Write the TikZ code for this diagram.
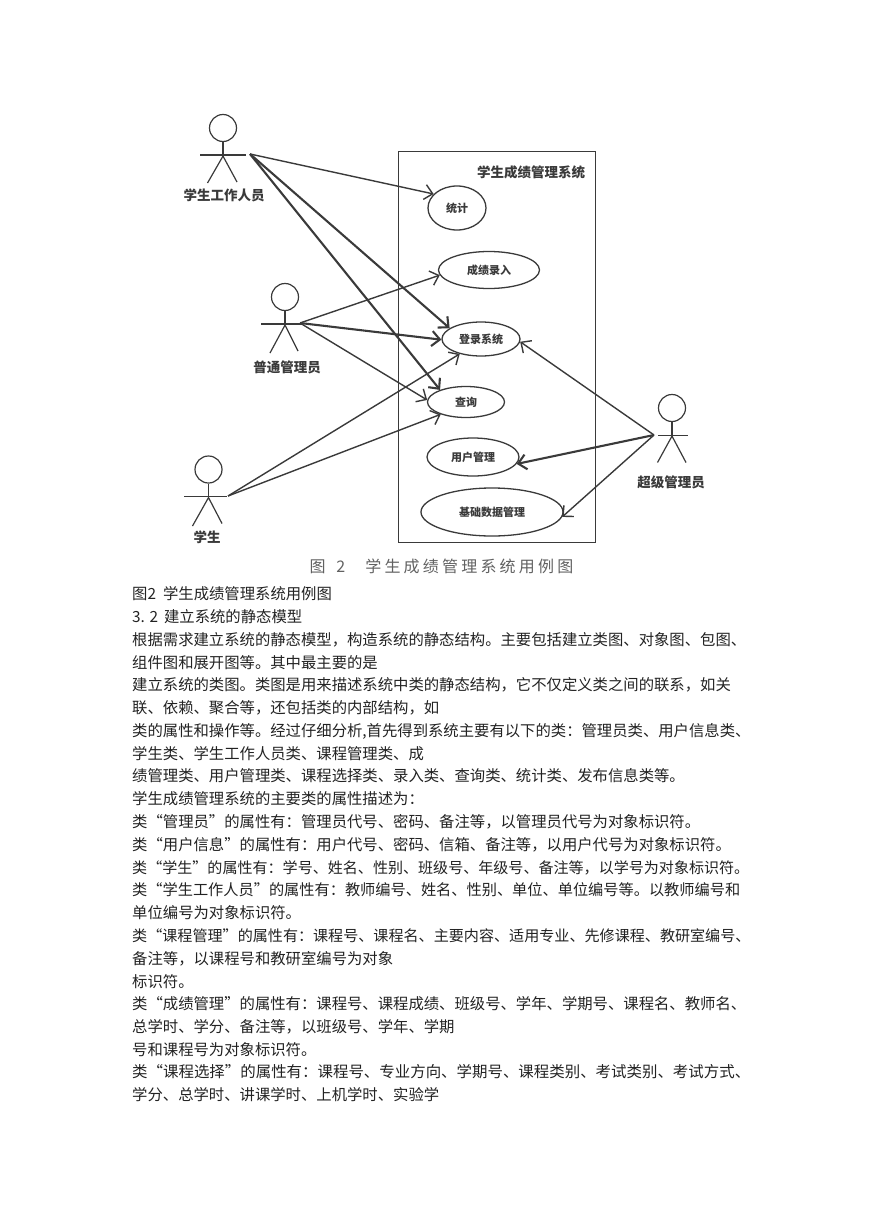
\documentclass[tikz,border=0pt]{standalone}
\usepackage{fontspec}
\setmainfont{Noto Sans CJK SC}
\newfontfamily\capfont[LetterSpace=20]{Noto Sans CJK SC}
\usetikzlibrary{arrows.meta,shapes.geometric}
\definecolor{ink}{HTML}{3A3A3A}
\definecolor{body}{HTML}{222222}
\begin{document}
\begin{tikzpicture}[
    x=1pt,y=-1pt,
    >={Straight Barb[length=8pt,width=15pt]},
    head/.style={circle,draw=ink,line width=1.2pt,inner sep=0,minimum size=27pt},
    stick/.style={draw=ink,line width=1.2pt},
    usecase/.style={ellipse,draw=ink,line width=1.3pt,inner sep=0,text=ink,font=\fontsize{11}{13}\selectfont\bfseries},
    role/.style={inner sep=0,text=ink,font=\fontsize{13.5}{15}\selectfont\bfseries},
    uses/.style={->,draw=ink,line width=1.4pt},
    usesthick/.style={->,draw=ink,line width=2.1pt},
    txt/.style={anchor=base west,inner sep=0,text=body,font=\fontsize{#1}{18}\selectfont},
    txt/.default=15.35
    ]
    \useasboundingbox (0,0) rectangle (869,1228);

    % system box
    \node[draw=ink,line width=1.3pt,inner sep=0,minimum width=197pt,minimum height=391pt] (system) at (497,347) {};
    \node[role] (systitle) at (531,172) {学生成绩管理系统};

    % use cases
    \node[usecase,minimum width=58pt,minimum height=44pt] (tongji) at (457,208) {统计};
    \node[usecase,minimum width=101pt,minimum height=37pt] (luru) at (489,270) {成绩录入};
    \node[usecase,minimum width=78pt,minimum height=34pt] (login) at (481,339) {登录系统};
    \node[usecase,minimum width=77pt,minimum height=31pt] (query) at (466,402) {查询};
    \node[usecase,minimum width=92pt,minimum height=38pt] (usermgr) at (473,457) {用户管理};
    \node[usecase,minimum width=142pt,minimum height=48pt] (basedata) at (492,512) {基础数据管理};

    % actors
    \node[head] (workerhead) at (223,128) {};
    \draw[stick] (workerhead.south) -- ++(0,14) coordinate (workerhip);
    \draw[stick] (200,155) -- (246,155);
    \draw[stick] (207.5,183) -- (workerhip) -- (237,182);
    \node[role] (workerlabel) at (224,195) {学生工作人员};

    \node[head] (adminhead) at (285,297) {};
    \draw[stick] (adminhead.south) -- ++(0,14) coordinate (adminhip);
    \draw[stick] (261,324) -- (302,324);
    \draw[stick] (270,353) -- (adminhip) -- (298,351);
    \node[role] (adminlabel) at (287,367) {普通管理员};

    \node[head] (studenthead) at (208.5,469.5) {};
    \draw[stick] (studenthead.south) -- ++(0,14) coordinate (studenthip);
    \draw[stick] (184,496.5) -- (227,496.5);
    \draw[stick] (192.5,526) -- (studenthip) -- (222,523.5);
    \node[role] (studentlabel) at (207,537) {学生};

    \node[head] (superhead) at (672,408) {};
    \draw[stick] (superhead.south) -- ++(0,14) coordinate (superhip);
    \draw[stick] (658,435.5) -- (688,435.5);
    \draw[stick] (657.5,462.5) -- (superhip) -- (686,462.5);
    \node[role] (superlabel) at (671,482) {超级管理员};

    % hands
    \coordinate (workerhand) at (250,154);
    \coordinate (adminhand) at (300,323);
    \coordinate (studenthand) at (228,496);
    \coordinate (superhand) at (654,435);

    % connectors
    \draw[uses] (workerhand) to (tongji.149);
    \draw[usesthick] (workerhand) to (login.161);
    \draw[usesthick] (workerhand) to (query.155);
    \draw[uses] (adminhand) to (luru.186);
    \draw[usesthick] (adminhand) to (login.181);
    \draw[uses] (adminhand) to (query.177);
    \draw[uses] (studenthand) to (login.215);
    \draw[uses] (studenthand) to (query.206);
    \draw[uses] (superhand) to (login.-4);
    \draw[usesthick] (superhand) to (usermgr.-9);
    \draw[uses] (superhand) to (basedata.-4);

    % caption in the figure
    \node[inner sep=0,text=ink!80,font=\fontsize{16}{19}\selectfont\capfont] (figcap) at (441.5,566) {图\hspace{4pt} 2\hspace{20pt}学生成绩管理系统用例图};

    % body text
    \node[txt] (line1) at (132,599) {图2\hspace{7pt}学生成绩管理系统用例图};
    \node[txt] (line2) at (132,622) {3. 2\hspace{6pt}建立系统的静态模型};
    \node[txt] (line3) at (132,645) {根据需求建立系统的静态模型，构造系统的静态结构。主要包括建立类图、对象图、包图、};
    \node[txt] (line4) at (132,668) {组件图和展开图等。其中最主要的是};
    \node[txt] (line5) at (132,690.5) {建立系统的类图。类图是用来描述系统中类的静态结构，它不仅定义类之间的联系，如关};
    \node[txt] (line6) at (132,713) {联、依赖、聚合等，还包括类的内部结构，如};
    \node[txt] (line7) at (132,736) {类的属性和操作等。经过仔细分析,首先得到系统主要有以下的类：管理员类、用户信息类、};
    \node[txt] (line8) at (132,759) {学生类、学生工作人员类、课程管理类、成};
    \node[txt] (line9) at (132,781.5) {绩管理类、用户管理类、课程选择类、录入类、查询类、统计类、发布信息类等。};
    \node[txt] (line10) at (132,804.5) {学生成绩管理系统的主要类的属性描述为：};
    \node[txt] (line11) at (132,827) {类“管理员”的属性有：管理员代号、密码、备注等，以管理员代号为对象标识符。};
    \node[txt] (line12) at (132,850) {类“用户信息”的属性有：用户代号、密码、信箱、备注等，以用户代号为对象标识符。};
    \node[txt=15.05] (line13) at (132,873) {类“学生”的属性有：学号、姓名、性别、班级号、年级号、备注等，以学号为对象标识符。};
    \node[txt=15.2] (line14) at (132,895.5) {类“学生工作人员”的属性有：教师编号、姓名、性别、单位、单位编号等。以教师编号和};
    \node[txt] (line15) at (132,918.5) {单位编号为对象标识符。};
    \node[txt=15.08] (line16) at (132,941) {类“课程管理”的属性有：课程号、课程名、主要内容、适用专业、先修课程、教研室编号、};
    \node[txt] (line17) at (132,964) {备注等，以课程号和教研室编号为对象};
    \node[txt] (line18) at (132,987) {标识符。};
    \node[txt] (line19) at (132,1009.5) {类“成绩管理”的属性有：课程号、课程成绩、班级号、学年、学期号、课程名、教师名、};
    \node[txt] (line20) at (132,1032) {总学时、学分、备注等，以班级号、学年、学期};
    \node[txt] (line21) at (132,1055) {号和课程号为对象标识符。};
    \node[txt=15.45] (line22) at (132,1077.5) {类“课程选择”的属性有：课程号、专业方向、学期号、课程类别、考试类别、考试方式、};
    \node[txt] (line23) at (132,1100.5) {学分、总学时、讲课学时、上机学时、实验学};
\end{tikzpicture}
\end{document}
